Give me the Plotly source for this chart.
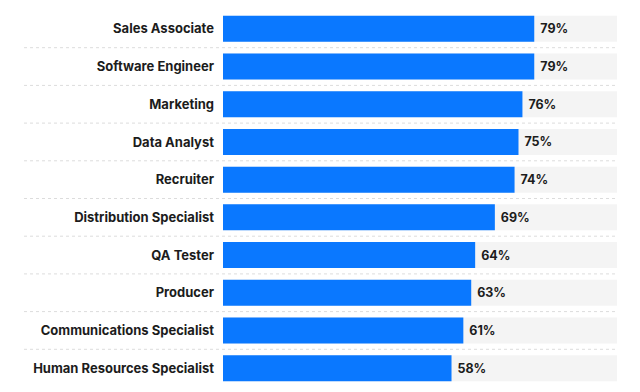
import plotly.graph_objects as go

categories = ["Sales Associate", "Software Engineer", "Marketing", "Data Analyst",
              "Recruiter", "Distribution Specialist", "QA Tester", "Producer",
              "Communications Specialist", "Human Resources Specialist"]
values = [79, 79, 76, 75, 74, 69, 64, 63, 61, 58]
value_labels = [f"{v}%" for v in values]
full_scale = [100] * len(categories)

BLUE = "#0a78ff"
GREY = "#f4f4f4"
TEXT = "#1c1c1c"
FONT = "Inter"

fig = go.Figure()
fig.add_trace(go.Bar(
    x=full_scale, y=categories, orientation="h",
    marker=dict(color=GREY, line=dict(width=0)),
    hoverinfo="skip", showlegend=False,
))
fig.add_trace(go.Bar(
    x=values, y=categories, orientation="h",
    marker=dict(color=BLUE, line=dict(width=0)),
    text=value_labels, texttemplate=" %{text}",
    textposition="outside", cliponaxis=False,
    textfont=dict(family=FONT, size=12.5, color=TEXT, weight=700),
    showlegend=False,
))

shapes = []
for i in range(len(categories) - 1):
    shapes.append(dict(
        type="line", xref="paper", yref="y",
        x0=-0.505, x1=1.0, y0=i + 0.5, y1=i + 0.5,
        line=dict(color="#dcdcdc", width=1, dash="dot"),
        layer="below",
    ))

fig.update_layout(
    width=640, height=392,
    margin=dict(l=215, r=31, t=2, b=13, pad=0, autoexpand=False),
    paper_bgcolor="white", plot_bgcolor="white",
    barmode="overlay", bargap=0.31,
    shapes=shapes,
    xaxis=dict(range=[0, 100], visible=False, fixedrange=True, automargin=False),
    yaxis=dict(autorange="reversed", showgrid=False, zeroline=False,
               showline=False, ticks="", ticklabelstandoff=8, automargin=False,
               tickfont=dict(family=FONT, size=13, color=TEXT, weight=700)),
)

fig.write_html("out.html")
